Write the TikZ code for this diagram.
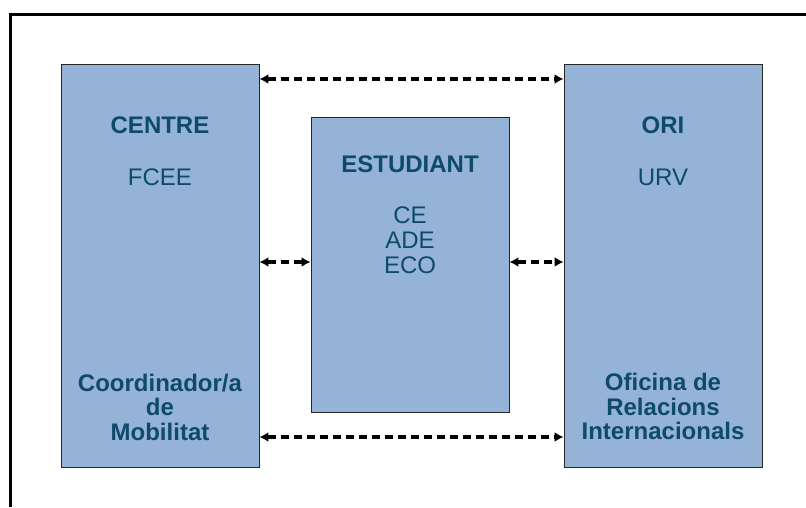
\documentclass[tikz,border=0pt]{standalone}
\usepackage{fontspec}
\setmainfont{Liberation Sans}
\usetikzlibrary{arrows.meta}
\definecolor{boxfill}{RGB}{149,179,215}
\definecolor{boxtext}{RGB}{14,74,106}
\begin{document}
\begin{tikzpicture}[x=1pt,y=-1pt,
  unitbox/.style={draw=black!85,line width=0.9pt,fill=boxfill},
  lbl/.style={anchor=base,inner sep=0pt,text=boxtext,font=\fontsize{24}{24.5}\selectfont},
  blbl/.style={lbl,font=\fontsize{24}{24.5}\selectfont\bfseries},
  link/.style={draw=black,line width=3.2pt,dash pattern=on 8pt off 5pt,
    {Latex[length=9pt,width=10pt]}-{Latex[length=9pt,width=10pt]}}]
  \useasboundingbox (0,0) rectangle (806,507);
  % open frame: top and left edges only
  \draw[line width=3pt] (10,507) -- (10,14) -- (806,14);

  % the three units
  \node[unitbox,minimum width=198pt,minimum height=403pt,inner sep=0pt] (centre) at (160,265.5) {};
  \node[unitbox,minimum width=198pt,minimum height=295pt,inner sep=0pt] (est) at (410,264.5) {};
  \node[unitbox,minimum width=198pt,minimum height=403pt,inner sep=0pt] (ori) at (663,265.5) {};

  % labels of the centre
  \node[blbl] (c1) at (160,133.5) {CENTRE};
  \node[lbl]  (c2) at (160,185) {FCEE};
  \node[blbl] (c3) at (160,391.5) {Coordinador/a};
  \node[blbl] (c4) at (160,415.5) {de};
  \node[blbl] (c5) at (160,440.5) {Mobilitat};

  % labels of the student
  \node[blbl] (e1) at (410,172) {ESTUDIANT};
  \node[lbl]  (e2) at (410,223.5) {CE};
  \node[lbl]  (e3) at (410,248.5) {ADE};
  \node[lbl]  (e4) at (410,273.5) {ECO};

  % labels of the international office
  \node[blbl] (o1) at (663,133.5) {ORI};
  \node[lbl]  (o2) at (663,185) {URV};
  \node[blbl] (o3) at (663,390.5) {Oficina de};
  \node[blbl] (o4) at (663,415.5) {Relacions};
  \node[blbl] (o5) at (663,439.5) {Internacionals};

  % two-way links
  \draw[link] (centre.east |- 0,79) -- (ori.west |- 0,79);
  \draw[link] (centre.east |- 0,262) -- (est.west |- 0,262);
  \draw[link] (est.east |- 0,262) -- (ori.west |- 0,262);
  \draw[link] (centre.east |- 0,437) -- (ori.west |- 0,437);
\end{tikzpicture}
\end{document}
